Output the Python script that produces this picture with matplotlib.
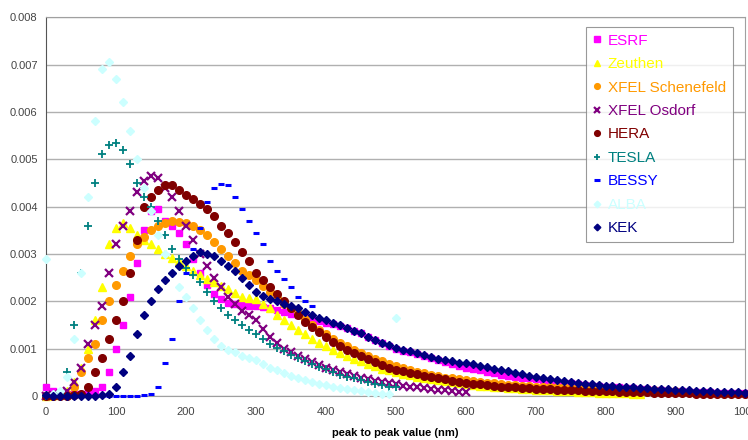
import matplotlib.pyplot as plt
from matplotlib.ticker import FixedLocator

plt.rcParams["font.family"] = ["Liberation Sans", "DejaVu Sans"]

SCALE = 1e-3  # values below are in units of 0.001
STEP = 10     # every series is read at 0, 10, 20, ... nm

esrf = [0.2, 0.1, 0.05, 0.05, 0.05, 0.05, 0.08, 0.1, 0.2, 0.5,
        1.0, 1.5, 2.1, 2.8, 3.5, 3.9, 3.95, 3.7, 3.6, 3.45,
        3.2, 2.9, 2.6, 2.35, 2.15, 2.05, 1.97, 1.94, 1.92, 1.91,
        1.9, 1.87, 1.85, 1.82, 1.78, 1.74, 1.7, 1.66, 1.62, 1.58,
        1.55, 1.51, 1.47, 1.43, 1.38, 1.32, 1.25, 1.18, 1.12, 1.06,
        1.0, 0.96, 0.92, 0.88, 0.84, 0.8, 0.76, 0.72, 0.68, 0.64,
        0.6, 0.57, 0.54, 0.51, 0.48, 0.45, 0.43, 0.41, 0.39, 0.37,
        0.35, 0.33, 0.31, 0.3, 0.28, 0.27, 0.25, 0.24, 0.22, 0.21,
        0.2, 0.19, 0.18, 0.17, 0.16, 0.15, 0.14, 0.13, 0.12, 0.11,
        0.1, 0.1, 0.09, 0.09, 0.08, 0.08, 0.07, 0.07, 0.07, 0.06,
        0.06]

zeuthen = [0, 0.02, 0.05, 0.1, 0.3, 0.6, 1.0, 1.6, 2.3, 3.2,
           3.55, 3.65, 3.55, 3.4, 3.3, 3.2, 3.1, 3.0, 2.92, 2.85,
           2.75, 2.65, 2.55, 2.47, 2.4, 2.32, 2.25, 2.18, 2.1, 2.07,
           2.05, 1.95, 1.85, 1.72, 1.6, 1.5, 1.4, 1.3, 1.2, 1.12,
           1.05, 0.97, 0.9, 0.84, 0.78, 0.73, 0.68, 0.63, 0.58, 0.54,
           0.5, 0.47, 0.44, 0.41, 0.38, 0.35, 0.33, 0.31, 0.29, 0.27,
           0.25, 0.24, 0.22, 0.21, 0.19, 0.18, 0.17, 0.16, 0.15, 0.14,
           0.13, 0.12, 0.12, 0.11, 0.1, 0.1, 0.09, 0.08, 0.08, 0.07,
           0.07, 0.06, 0.06, 0.06, 0.05, 0.05]

schenefeld = [0, 0.01, 0.02, 0.05, 0.2, 0.5, 0.8, 1.1, 1.6, 2.0,
              2.35, 2.65, 2.95, 3.2, 3.35, 3.5, 3.6, 3.65, 3.7, 3.68,
              3.65, 3.58, 3.5, 3.4, 3.25, 3.1, 2.95, 2.8, 2.65, 2.55,
              2.45, 2.32, 2.2, 2.08, 1.95, 1.85, 1.75, 1.62, 1.5, 1.4,
              1.3, 1.21, 1.12, 1.05, 0.97, 0.91, 0.85, 0.79, 0.73, 0.68,
              0.63, 0.59, 0.55, 0.51, 0.48, 0.45, 0.42, 0.39, 0.37, 0.35,
              0.33, 0.31, 0.3, 0.28, 0.27, 0.25, 0.24, 0.23, 0.22, 0.21,
              0.2, 0.2, 0.19, 0.18, 0.18, 0.17, 0.17, 0.16, 0.16, 0.15,
              0.15, 0.14, 0.14, 0.14, 0.13, 0.13, 0.12, 0.12, 0.11, 0.11,
              0.1]

osdorf = [0, 0.02, 0.05, 0.1, 0.3, 0.6, 1.1, 1.5, 1.9, 2.6,
          3.2, 3.6, 3.9, 4.3, 4.55, 4.65, 4.6, 4.4, 4.2, 3.9,
          3.6, 3.3, 3.0, 2.75, 2.5, 2.3, 2.1, 1.95, 1.8, 1.7,
          1.6, 1.42, 1.25, 1.12, 1.0, 0.92, 0.85, 0.78, 0.72, 0.66,
          0.6, 0.55, 0.5, 0.46, 0.42, 0.38, 0.35, 0.32, 0.3, 0.27,
          0.25, 0.22, 0.2, 0.18, 0.16, 0.15, 0.13, 0.12, 0.1, 0.09,
          0.08]

hera = [0, 0, 0, 0.01, 0.02, 0.05, 0.2, 0.5, 0.8, 1.2,
        1.6, 2.0, 2.6, 3.3, 4.0, 4.2, 4.35, 4.45, 4.45, 4.35,
        4.25, 4.15, 4.05, 3.95, 3.8, 3.6, 3.45, 3.25, 3.05, 2.85,
        2.6, 2.45, 2.3, 2.15, 2.0, 1.85, 1.7, 1.57, 1.45, 1.35,
        1.25, 1.15, 1.05, 0.97, 0.9, 0.84, 0.78, 0.72, 0.66, 0.6,
        0.55, 0.52, 0.49, 0.46, 0.43, 0.4, 0.37, 0.35, 0.32, 0.3,
        0.28, 0.26, 0.25, 0.23, 0.22, 0.2, 0.19, 0.18, 0.17, 0.16,
        0.15, 0.14, 0.14, 0.13, 0.13, 0.12, 0.12, 0.11, 0.11, 0.1,
        0.1, 0.1, 0.09, 0.09, 0.08, 0.08, 0.08, 0.07, 0.07, 0.06,
        0.06, 0.06, 0.06, 0.05, 0.05, 0.05, 0.05, 0.05, 0.04, 0.04,
        0.04]

tesla = [0, 0, 0.05, 0.5, 1.5, 2.6, 3.6, 4.5, 5.1, 5.3,
         5.35, 5.2, 4.9, 4.5, 4.2, 4.0, 3.7, 3.4, 3.1, 2.9,
         2.7, 2.55, 2.4, 2.2, 2.0, 1.85, 1.7, 1.6, 1.5, 1.4,
         1.3, 1.2, 1.1, 1.02, 0.95, 0.87, 0.8, 0.73, 0.67, 0.61,
         0.56, 0.5, 0.45, 0.41, 0.37, 0.33, 0.3, 0.26, 0.23, 0.2,
         0.18]

bessy = [0, 0, 0, 0, 0, 0, 0, 0, 0, 0,
         0, 0, 0, 0, 0.02, 0.05, 0.2, 0.7, 1.2, 2.0,
         2.6, 3.1, 3.55, 4.1, 4.4, 4.48, 4.46, 4.2, 3.95, 3.7,
         3.45, 3.2, 2.85, 2.65, 2.48, 2.3, 2.1, 2.0, 1.9]

alba = [2.9, 0.05, 0.1, 0.4, 1.2, 2.6, 4.2, 5.8, 6.9, 7.05,
        6.7, 6.2, 5.6, 5.0, 4.4, 3.9, 3.4, 3.0, 2.6, 2.3,
        2.1, 1.85, 1.6, 1.4, 1.2, 1.05, 0.98, 0.92, 0.85, 0.8,
        0.75, 0.67, 0.6, 0.54, 0.48, 0.43, 0.38, 0.34, 0.3, 0.26,
        0.23, 0.2, 0.17, 0.14, 0.12, 0.1, 0.08, 0.06, 0.05, 0.04,
        1.65]

kek = [0.02, 0.01, 0, 0, 0, 0, 0, 0.01, 0.02, 0.05,
       0.2, 0.5, 0.85, 1.3, 1.7, 2.0, 2.25, 2.45, 2.6, 2.75,
       2.85, 2.95, 3.05, 3.0, 2.95, 2.85, 2.75, 2.65, 2.5, 2.35,
       2.2, 2.12, 2.05, 2.0, 1.95, 1.9, 1.85, 1.78, 1.7, 1.65,
       1.6, 1.55, 1.5, 1.44, 1.38, 1.32, 1.25, 1.18, 1.12, 1.07,
       1.02, 0.98, 0.94, 0.9, 0.86, 0.82, 0.79, 0.76, 0.73, 0.7,
       0.7, 0.67, 0.64, 0.61, 0.58, 0.55, 0.52, 0.49, 0.46, 0.43,
       0.4, 0.38, 0.36, 0.34, 0.32, 0.3, 0.28, 0.26, 0.25, 0.23,
       0.22, 0.21, 0.2, 0.19, 0.18, 0.17, 0.16, 0.15, 0.15, 0.14,
       0.13, 0.13, 0.12, 0.11, 0.11, 0.1, 0.09, 0.09, 0.08, 0.08,
       0.07]

series = [
    ("ESRF", esrf, "#ff00ff", "s", 5, 1),
    ("Zeuthen", zeuthen, "#ffff00", "^", 5.5, 1),
    ("XFEL Schenefeld", schenefeld, "#ff9900", "o", 5.5, 1),
    ("XFEL Osdorf", osdorf, "#800080", "x", 5.5, 1.6),
    ("HERA", hera, "#800000", "o", 5.5, 1),
    ("TESLA", tesla, "#008080", "+", 6, 1.3),
    ("BESSY", bessy, "#0000ff", "_", 5, 2.2),
    ("ALBA", alba, "#ccffff", "D", 4.5, 1),
    ("KEK", kek, "#000080", "D", 4.5, 1),
]

fig = plt.figure(figsize=(7.48, 4.40), dpi=100)
ax = fig.add_axes([0.0615, 0.1, 0.935, 0.861])

for i, (name, ys, color, marker, ms, mew) in enumerate(series):
    xs = [k * STEP for k in range(len(ys))]
    ax.plot(xs, [v * SCALE for v in ys], linestyle="none", marker=marker,
            markersize=ms, color=color, markeredgecolor=color,
            markeredgewidth=mew, label=name, zorder=3 + i, clip_on=False)

ax.set_xlim(0, 1000)
ax.set_ylim(0, 0.008)
ax.xaxis.set_major_locator(FixedLocator(range(0, 1001, 100)))
ax.yaxis.set_major_locator(FixedLocator([i * 0.001 for i in range(9)]))
ax.set_yticklabels(["0"] + [f"{i * 0.001:.3f}" for i in range(1, 9)])
ax.tick_params(labelsize=8, colors="#444444", length=0)
ax.tick_params(axis="x", pad=8)
ax.tick_params(axis="y", pad=6)
ax.grid(axis="y", color="#b0b0b0", linewidth=1)
ax.set_axisbelow(True)
ax.spines["left"].set_color("#555555")
for side in ("bottom", "top", "right"):
    ax.spines[side].set_color("#a0a0a0")
ax.set_xlabel("peak to peak value (nm)", fontsize=8, fontweight="bold", labelpad=8)

leg = ax.legend(loc="upper right", bbox_to_anchor=(0.993, 0.995), fontsize=11,
                frameon=True, fancybox=False, borderpad=0.45, labelspacing=0.62,
                handlelength=0.6, handletextpad=0.4, markerscale=0.75)
leg.get_frame().set_edgecolor("#808080")
leg.get_frame().set_linewidth(0.8)
leg.set_zorder(20)
for text, s in zip(leg.get_texts(), series):
    text.set_color(s[2])

fig.savefig("out.png", dpi=100)
